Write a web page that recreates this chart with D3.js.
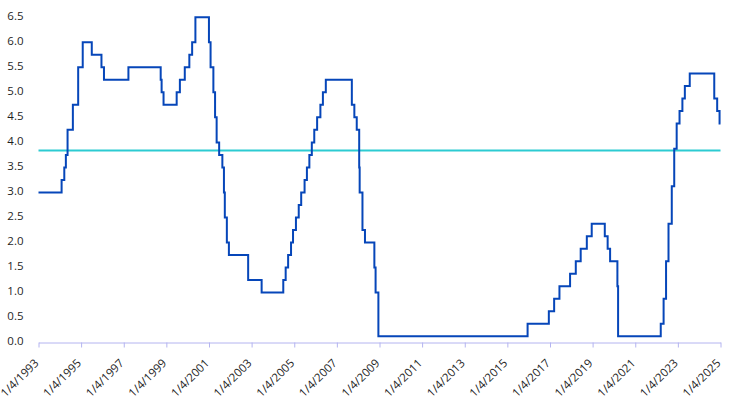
<!DOCTYPE html>
<html>
<head>
<meta charset="utf-8">
<script src="https://cdn.jsdelivr.net/npm/d3@7"></script>
<style>
  body { margin: 0; background: #fff; }
  text { font-family: "Open Sans", "Noto Sans", sans-serif; fill: #1f1f1f; }
</style>
</head>
<body>
<div id="graph"></div>
<script>
// fed funds target (midpoint of range after 2008), change dates
var rateDates = [
	"1993-01-04","1994-02-04","1994-03-22","1994-04-18","1994-05-17","1994-08-16","1994-11-15",
	"1995-02-01","1995-07-06","1995-12-19","1996-01-31","1997-03-25","1998-09-29","1998-10-15",
	"1998-11-17","1999-06-30","1999-08-24","1999-11-16","2000-02-02","2000-03-21","2000-05-16",
	"2001-01-03","2001-01-31","2001-03-20","2001-04-18","2001-05-15","2001-06-27","2001-08-21",
	"2001-09-17","2001-10-02","2001-11-06","2001-12-11","2002-11-06","2003-06-25","2004-06-30",
	"2004-08-10","2004-09-21","2004-11-10","2004-12-14","2005-02-02","2005-03-22","2005-05-03",
	"2005-06-30","2005-08-09","2005-09-20","2005-11-01","2005-12-13","2006-01-31","2006-03-28",
	"2006-05-10","2006-06-29","2007-09-18","2007-10-31","2007-12-11","2008-01-22","2008-01-30",
	"2008-03-18","2008-04-30","2008-10-08","2008-10-29","2008-12-16","2015-12-17","2016-12-15",
	"2017-03-16","2017-06-15","2017-12-14","2018-03-22","2018-06-14","2018-09-27","2018-12-20",
	"2019-08-01","2019-09-19","2019-10-31","2020-03-04","2020-03-16","2022-03-17","2022-05-05",
	"2022-06-16","2022-07-28","2022-09-22","2022-11-03","2022-12-15","2023-02-02","2023-03-23",
	"2023-05-04","2023-07-27","2024-09-19","2024-11-08","2024-12-19","2025-01-04"
];
var rateValues = [
	3.00,3.25,3.50,3.75,4.25,4.75,5.50,
	6.00,5.75,5.50,5.25,5.50,5.25,5.00,
	4.75,5.00,5.25,5.50,5.75,6.00,6.50,
	6.00,5.50,5.00,4.50,4.00,3.75,3.50,
	3.00,2.50,2.00,1.75,1.25,1.00,1.25,
	1.50,1.75,2.00,2.25,2.50,2.75,3.00,
	3.25,3.50,3.75,4.00,4.25,4.50,4.75,
	5.00,5.25,4.75,4.50,4.25,3.50,3.00,
	2.25,2.00,1.50,1.00,0.125,0.375,0.625,
	0.875,1.125,1.375,1.625,1.875,2.125,2.375,
	2.125,1.875,1.625,1.125,0.125,0.375,0.875,
	1.625,2.375,3.125,3.875,4.375,4.625,4.875,
	5.125,5.375,4.875,4.625,4.375,4.375
];
var averageRate = 3.84;
var yTicks = [0, 0.5, 1, 1.5, 2, 2.5, 3, 3.5, 4, 4.5, 5, 5.5, 6, 6.5];
var xTickLabels = ["1/4/1993","1/4/1995","1/4/1997","1/4/1999","1/4/2001","1/4/2003","1/4/2005",
	"1/4/2007","1/4/2009","1/4/2011","1/4/2013","1/4/2015","1/4/2017","1/4/2019","1/4/2021",
	"1/4/2023","1/4/2025"];

var SVGwidth = 738,
	SVGheight = 414,
	margin = {top: 17.3, right: 18, bottom: 71.5, left: 38.5},
	width = SVGwidth - margin.left - margin.right,
	height = SVGheight - margin.top - margin.bottom;

var parseISO = d3.timeParse("%Y-%m-%d"),
	parseTick = d3.timeParse("%-m/%-d/%Y");

var data = rateDates.map(function(d, i) { return {date: parseISO(d), value: rateValues[i]}; });

var svg = d3.select("#graph")
	.append("svg")
	.attr("width", SVGwidth)
	.attr("height", SVGheight);

var g = svg.append("g")
	.attr("transform", "translate(" + margin.left + "," + margin.top + ")");

var x = d3.scaleTime()
	.domain([parseTick(xTickLabels[0]), parseTick(xTickLabels[xTickLabels.length - 1])])
	.range([0, width + 0.5]);
var y = d3.scaleLinear()
	.domain([0, 6.5])
	.range([height, 0]);

// y labels (no axis line)
g.selectAll(".ylab")
	.data(yTicks)
	.enter()
	.append("text")
	.attr("class", "ylab")
	.attr("x", -15)
	.attr("y", function(d) { return y(d) - 1.5; })
	.attr("dy", "0.35em")
	.attr("text-anchor", "end")
	.style("font-size", "11.5px")
	.text(function(d) { return d3.format(".1f")(d); });

// x axis
var xAxis = g.append("g")
	.attr("transform", "translate(0," + height + ")")
	.call(d3.axisBottom(x)
		.tickValues(xTickLabels.map(function(d) { return parseTick(d); }))
		.tickSize(5)
		.tickSizeOuter(0)
		.tickFormat(""));
xAxis.select(".domain").attr("stroke", "#b4b4f0").attr("stroke-width", 1);
xAxis.selectAll(".tick line").attr("stroke", "#b4b4f0");

g.selectAll(".xlab")
	.data(xTickLabels)
	.enter()
	.append("text")
	.attr("class", "xlab")
	.attr("transform", function(d) { return "translate(" + (x(parseTick(d)) - 2) + "," + (height + 18.5) + ") rotate(-45)"; })
	.attr("text-anchor", "end")
	.attr("dy", "0.35em")
	.style("font-size", "11.5px")
	.text(function(d) { return d; });

// average line
g.append("line")
	.attr("x1", x(data[0].date))
	.attr("x2", x(data[data.length - 1].date))
	.attr("y1", y(averageRate))
	.attr("y2", y(averageRate))
	.attr("stroke", "#2ccbd2")
	.attr("stroke-width", 2);

var line = d3.line()
	.curve(d3.curveStepAfter)
	.x(function(d) { return x(d.date); })
	.y(function(d) { return y(d.value); });

g.append("path")
	.datum(data)
	.attr("d", line)
	.attr("fill", "none")
	.attr("stroke", "#0646b9")
	.attr("stroke-width", 2);
</script>
</body>
</html>
